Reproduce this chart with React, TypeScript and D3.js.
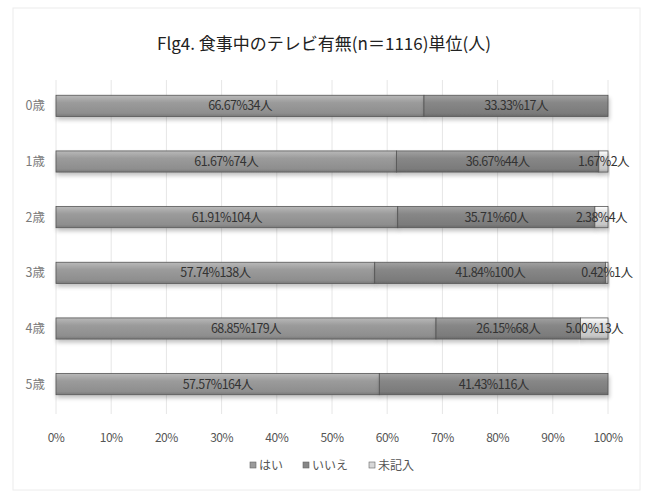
import React from "react";
import * as d3 from "d3";

// Ages (rows) and respondents per answer, with the percentages printed on each segment
const ages = ["0歳", "1歳", "2歳", "3歳", "4歳", "5歳"];
const seriesNames = ["はい", "いいえ", "未記入"];
const yesCounts = [34, 74, 104, 138, 179, 164];
const noCounts = [17, 44, 60, 100, 68, 116];
const blankCounts = [0, 2, 4, 1, 13, 0];
const yesPct = [66.67, 61.67, 61.91, 57.74, 68.85, 57.57];
const noPct = [33.33, 36.67, 35.71, 41.84, 26.15, 41.43];
const blankPct = [0, 1.67, 2.38, 0.42, 5.0, 0];
const xTicks = [0, 0.1, 0.2, 0.3, 0.4, 0.5, 0.6, 0.7, 0.8, 0.9, 1.0];

const W = 647;
const H = 495;
const fillColors = ["#9b9b9b", "#878787", "#d8d8d8"];
const fontJP = "'Noto Sans CJK JP', 'Noto Sans', sans-serif";

export default function App() {
  const rows = ages.map((age, i) => ({
    age,
    はい: yesCounts[i],
    いいえ: noCounts[i],
    未記入: blankCounts[i],
  }));
  const pcts = [yesPct, noPct, blankPct];
  const counts = [yesCounts, noCounts, blankCounts];

  const stack = d3
    .stack<any>()
    .keys(seriesNames)
    .offset(d3.stackOffsetExpand);
  const layers = stack(rows);

  const x = d3.scaleLinear().domain([0, 1]).range([56, 608]);
  const y = d3
    .scaleBand<string>()
    .domain(ages)
    .range([78, 412])
    .paddingInner(0.62)
    .paddingOuter(0.31);
  const bh = y.bandwidth();

  const legendX = [250, 303, 369];

  return (
    <svg
      width={W}
      height={H}
      style={{ position: "absolute", left: 0, top: 0, background: "#fff" }}
    >
      <defs>
        {fillColors.map((c, k) => (
          <linearGradient key={k} id={`g${k}`} x1="0" y1="0" x2="0" y2="1">
            <stop offset="0" stopColor={d3.color(c)!.brighter(0.5).formatHex()} />
            <stop offset="0.35" stopColor={c} />
            <stop offset="0.85" stopColor={d3.color(c)!.darker(0.25).formatHex()} />
            <stop offset="1" stopColor={d3.color(c)!.darker(0.7).formatHex()} />
          </linearGradient>
        ))}
        <filter id="shadow" x="-5%" y="-40%" width="110%" height="200%">
          <feGaussianBlur in="SourceAlpha" stdDeviation="2" />
          <feOffset dx="1" dy="3" result="b" />
          <feComponentTransfer>
            <feFuncA type="linear" slope="0.25" />
          </feComponentTransfer>
          <feMerge>
            <feMergeNode />
            <feMergeNode in="SourceGraphic" />
          </feMerge>
        </filter>
      </defs>

      {/* chart frame */}
      <rect x={13} y={8} width={627} height={482} fill="none" stroke="#ececec" />

      {/* title */}
      <text
        x={324}
        y={50}
        textAnchor="middle"
        fontFamily={fontJP}
        fontSize={17}
        fill="#222"
      >
        Flg4. 食事中のテレビ有無(n＝1116)単位(人)
      </text>

      {/* vertical gridlines */}
      {xTicks.map((t) => (
        <line
          key={t}
          x1={x(t)}
          x2={x(t)}
          y1={80}
          y2={414}
          stroke="#e6e6e6"
          strokeWidth={1}
        />
      ))}

      {/* stacked bars */}
      {layers.map((layer, k) => (
        <g key={layer.key} filter="url(#shadow)">
          {layer.map((d, i) =>
            d[1] - d[0] > 0 ? (
              <rect
                key={i}
                x={x(d[0])}
                y={y(ages[i])}
                width={x(d[1]) - x(d[0])}
                height={bh}
                fill={`url(#g${k})`}
                stroke="#555"
                strokeWidth={0.8}
              />
            ) : null
          )}
        </g>
      ))}

      {/* segment labels */}
      {layers.map((layer, k) => (
        <g key={layer.key}>
          {layer.map((d, i) =>
            counts[k][i] > 0 ? (
              <text
                key={i}
                x={(x(d[0]) + x(d[1])) / 2}
                y={(y(ages[i]) as number) + bh / 2 + 4.5}
                textAnchor="middle"
                fontFamily={fontJP}
                fontSize={12.5}
                letterSpacing={-0.6}
                fill="#333"
              >
                {`${pcts[k][i].toFixed(2)}%${counts[k][i]}人`}
              </text>
            ) : null
          )}
        </g>
      ))}

      {/* category labels */}
      {ages.map((a) => (
        <text
          key={a}
          x={45}
          y={(y(a) as number) + bh / 2 + 4.5}
          textAnchor="end"
          fontFamily={fontJP}
          fontSize={12.5}
          fill="#7a7a7a"
        >
          {a}
        </text>
      ))}

      {/* x axis tick labels */}
      {xTicks.map((t) => (
        <text
          key={t}
          x={x(t)}
          y={442}
          textAnchor="middle"
          fontFamily={fontJP}
          fontSize={12}
          letterSpacing={-0.5}
          fill="#555"
        >
          {d3.format(".0%")(t)}
        </text>
      ))}

      {/* legend */}
      {seriesNames.map((s, k) => (
        <g key={s} transform={`translate(${legendX[k]},465)`}>
          <rect
            x={0}
            y={-3}
            width={6}
            height={6}
            fill={fillColors[k]}
            stroke="#666"
            strokeWidth={0.6}
          />
          <text
            x={9}
            y={4.5}
            fontFamily={fontJP}
            fontSize={12}
            fill="#555"
          >
            {s}
          </text>
        </g>
      ))}
    </svg>
  );
}
